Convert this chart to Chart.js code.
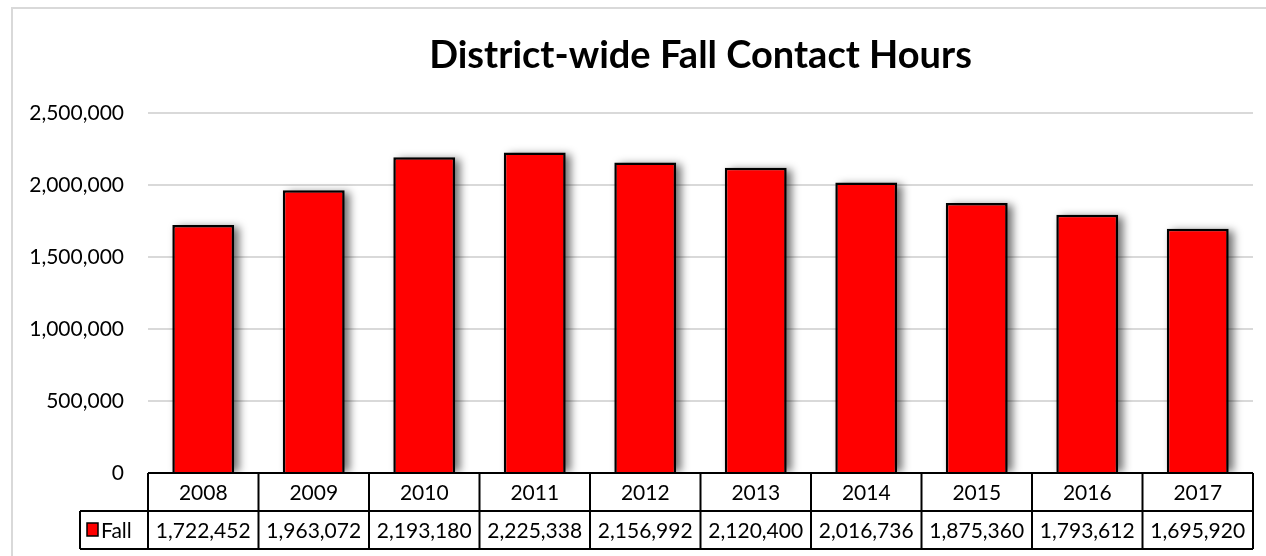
<!DOCTYPE html>
<html>
<head>
<meta charset="utf-8">
<script src="https://cdn.jsdelivr.net/npm/chart.js@4"></script>
<style>
  html, body { margin: 0; padding: 0; background: #fff; }
  #wrap { width: 1266px; height: 556px; }
</style>
</head>
<body>
<div id="wrap"><canvas id="fall-chart" width="1266" height="556"></canvas></div>
<script>
var years = ['2008', '2009', '2010', '2011', '2012', '2013', '2014', '2015', '2016', '2017'];
var fallHours = [1722452, 1963072, 2193180, 2225338, 2156992, 2120400, 2016736, 1875360, 1793612, 1695920];
var seriesName = 'Fall';
var chartTitle = 'District-wide Fall Contact Hours';

var FONT = 'Lato, Carlito, "Liberation Sans", sans-serif';

function fmt(v) { return v.toLocaleString('en-US'); }

// outer frame + title
var framePlugin = {
	id: 'frame',
	beforeDraw: function(chart) {
		var c = chart.ctx;
		c.save();
		c.fillStyle = '#fff';
		c.fillRect(0, 0, chart.width, chart.height);
		c.strokeStyle = '#d9d9d9';
		c.lineWidth = 2;
		c.strokeRect(12, 8, chart.width + 10, chart.height + 10);
		c.restore();
	},
	afterDraw: function(chart) {
		var c = chart.ctx, a = chart.chartArea;
		c.save();
		c.fillStyle = '#000';
		c.font = 'bold 38px ' + FONT;
		c.textAlign = 'center';
		c.textBaseline = 'alphabetic';
		c.fillText(chartTitle, (a.left + a.right) / 2, 68);
		c.restore();
	}
};

// soft shadow behind bars like excel
var shadowPlugin = {
	id: 'barShadow',
	beforeDatasetsDraw: function(chart) {
		var c = chart.ctx;
		var meta = chart.getDatasetMeta(0);
		c.save();
		c.filter = 'blur(4px)';
		c.fillStyle = 'rgba(0,0,0,0.55)';
		meta.data.forEach(function(bar) {
			var w = bar.width;
			var left = bar.x - w / 2;
			c.fillRect(left + 5, bar.y + 2, w, bar.base - bar.y - 2);
		});
		c.restore();
		// cover shadow that went below the base line
		c.save();
		c.fillStyle = '#fff';
		c.fillRect(chart.chartArea.left, chart.chartArea.bottom + 1, chart.chartArea.right - chart.chartArea.left, 20);
		c.restore();
	}
};

// data table under the plot
var tablePlugin = {
	id: 'dataTable',
	afterDraw: function(chart) {
		var c = chart.ctx, a = chart.chartArea, x = chart.scales.x;
		var n = years.length;
		var colW = (a.right - a.left) / n;
		var top = a.bottom, mid = top + 38, bot = mid + 38;
		var legendLeft = 80;
		c.save();
		c.strokeStyle = '#000';
		c.lineWidth = 2;
		c.beginPath();
		c.moveTo(a.left, top); c.lineTo(a.right, top);
		c.moveTo(legendLeft, mid); c.lineTo(a.right, mid);
		c.moveTo(legendLeft, bot); c.lineTo(a.right, bot);
		c.moveTo(legendLeft, mid); c.lineTo(legendLeft, bot);
		for (var i = 0; i <= n; i++) {
			var lx = a.left + i * colW;
			c.moveTo(lx, top); c.lineTo(lx, bot);
		}
		c.stroke();

		c.fillStyle = '#000';
		c.font = '21px ' + FONT;
		c.textAlign = 'center';
		c.textBaseline = 'middle';
		for (var j = 0; j < n; j++) {
			var cx = x.getPixelForValue(j);
			c.fillText(years[j], cx, (top + mid) / 2 + 1);
			c.fillText(fmt(fallHours[j]), cx, (mid + bot) / 2 + 1);
		}
		// legend key
		c.fillStyle = '#ff0000';
		c.fillRect(87, 523, 11, 13);
		c.lineWidth = 1.5;
		c.strokeRect(87, 523, 11, 13);
		c.fillStyle = '#000';
		c.textAlign = 'left';
		c.fillText(seriesName, 101, (mid + bot) / 2 + 1);
		c.restore();
	}
};

var ctx = document.getElementById('fall-chart').getContext('2d');
var myChart = new Chart(ctx, {
	type: 'bar',
	data: {
		labels: years,
		datasets: [{
			label: seriesName,
			data: fallHours,
			backgroundColor: '#ff0000',
			borderColor: '#000000',
			borderWidth: 2.5,
			barPercentage: 0.56,
			categoryPercentage: 1.0
		}]
	},
	options: {
		responsive: false,
		animation: false,
		layout: { padding: { left: 0, right: 13, top: 113, bottom: 83 } },
		plugins: {
			legend: { display: false },
			title: { display: false },
			tooltip: { enabled: false }
		},
		scales: {
			x: { display: false },
			y: {
				min: 0,
				max: 2500000,
				ticks: {
					stepSize: 500000,
					padding: 24,
					color: '#000',
					font: { family: FONT, size: 21 },
					callback: function(v) { return fmt(v); }
				},
				grid: { color: '#d9d9d9', lineWidth: 2, drawTicks: false },
				border: { display: false },
				afterFit: function(scale) { scale.width = 148; }
			}
		}
	},
	plugins: [framePlugin, shadowPlugin, tablePlugin]
});
</script>
</body>
</html>
